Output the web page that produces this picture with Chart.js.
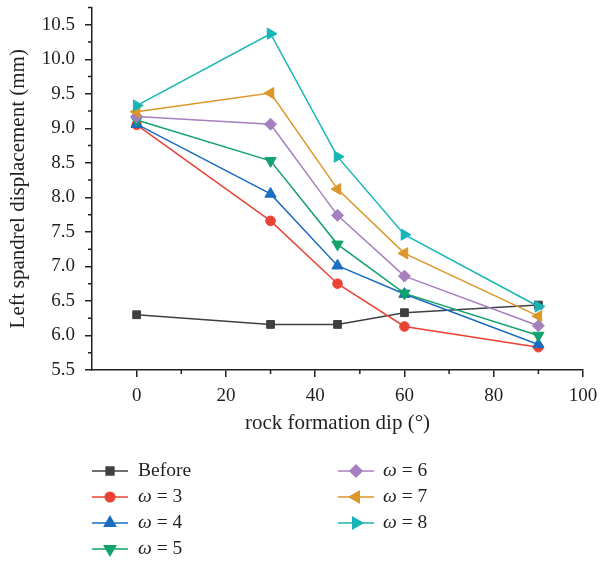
<!DOCTYPE html>
<html>
<head>
<meta charset="utf-8">
<script src="https://cdn.jsdelivr.net/npm/chart.js@4/dist/chart.umd.min.js"></script>
<style>
  body { margin: 0; background: #fff; }
  #wrap { width: 601px; height: 564px; }
</style>
</head>
<body>
<div id="wrap"><canvas id="chart" width="601" height="564"></canvas></div>
<script>
// values
const dips = [0, 30, 45, 60, 90];
const before = [6.30, 6.16, 6.16, 6.33, 6.44];
const w3 = [9.05, 7.66, 6.75, 6.13, 5.83];
const w4 = [9.06, 8.05, 7.01, 6.60, 5.87];
const w5 = [9.12, 8.53, 7.32, 6.61, 6.00];
const w6 = [9.17, 9.06, 7.74, 6.86, 6.14];
const w7 = [9.24, 9.51, 8.12, 7.19, 6.28];
const w8 = [9.33, 10.37, 8.59, 7.46, 6.42];

const xTicks = [0, 20, 40, 60, 80, 100];
const xMinor = [10, 30, 50, 70, 90];
const yTicks = [5.5, 6.0, 6.5, 7.0, 7.5, 8.0, 8.5, 9.0, 9.5, 10.0, 10.5];
const yMinor = [5.75, 6.25, 6.75, 7.25, 7.75, 8.25, 8.75, 9.25, 9.75, 10.25, 10.75];

const FONT = '"Liberation Serif", "Times New Roman", serif';
const INK = '#231f20';

function pts(arr) {
  return arr.map((v, i) => ({ x: dips[i], y: v }));
}

function series(label, values, color, style, rotation, radius, order) {
  return {
    label, data: pts(values),
    borderColor: color, backgroundColor: color,
    borderWidth: 1.5,
    pointStyle: style, rotation: rotation, pointRadius: radius,
    pointHoverRadius: radius, pointBorderWidth: 1,
    tension: 0, order: order
  };
}

const datasets = [
  series('Before', before, '#3d3f40', 'rect', 0, 5.5, 6),
  series('3', w3, '#ea4335', 'circle', 0, 4.8, 5),
  series('4', w4, '#1a6dc0', 'triangle', 0, 6.5, 4),
  series('5', w5, '#12a26b', 'triangle', 180, 6.5, 3),
  series('6', w6, '#a67fbf', 'rectRot', 0, 6, 2),
  series('7', w7, '#dc962b', 'triangle', 270, 6.5, 1),
  series('8', w8, '#17b6b6', 'triangle', 90, 6.5, 0)
];

// short minor tick marks on both axes
const minorTicks = {
  id: 'minorTicks',
  afterDraw(chart) {
    const { ctx, scales: { x, y } } = chart;
    ctx.save();
    ctx.strokeStyle = INK;
    ctx.lineWidth = 1.5;
    ctx.beginPath();
    xMinor.forEach(v => {
      const px = x.getPixelForValue(v);
      ctx.moveTo(px, y.bottom);
      ctx.lineTo(px, y.bottom + 4);
    });
    yMinor.forEach(v => {
      const py = y.getPixelForValue(v);
      ctx.moveTo(x.left, py);
      ctx.lineTo(x.left - 4, py);
    });
    ctx.stroke();
    ctx.restore();
  }
};

// two-column legend under the axis title
const legendCols = [
  { lineX: 92, textX: 138, items: [0, 1, 2, 3] },
  { lineX: 338, textX: 383, items: [4, 5, 6] }
];
const legendRows = [471, 497, 523, 549];

const twoColLegend = {
  id: 'twoColLegend',
  afterDraw(chart) {
    const ctx = chart.ctx;
    ctx.save();
    legendCols.forEach(col => {
      col.items.forEach((di, r) => {
        const ds = chart.data.datasets[di];
        const yy = legendRows[r];
        ctx.strokeStyle = ds.borderColor;
        ctx.fillStyle = ds.backgroundColor;
        ctx.lineWidth = 1.5;
        ctx.beginPath();
        ctx.moveTo(col.lineX, yy);
        ctx.lineTo(col.lineX + 36, yy);
        ctx.stroke();
        Chart.helpers.drawPoint(ctx, {
          pointStyle: ds.pointStyle, rotation: ds.rotation,
          radius: ds.pointRadius, borderWidth: 1
        }, col.lineX + 18, yy);
        ctx.fillStyle = INK;
        ctx.textBaseline = 'middle';
        ctx.textAlign = 'left';
        if (ds.label === 'Before') {
          ctx.font = '19.5px ' + FONT;
          ctx.fillText('Before', col.textX, yy);
        } else {
          ctx.font = 'italic 19.5px ' + FONT;
          ctx.fillText('\u03c9', col.textX, yy);
          const w = ctx.measureText('\u03c9').width;
          ctx.font = '19.5px ' + FONT;
          ctx.fillText(' = ' + ds.label, col.textX + w, yy);
        }
      });
    });
    ctx.restore();
  }
};

new Chart(document.getElementById('chart'), {
  type: 'line',
  data: { datasets },
  plugins: [minorTicks, twoColLegend],
  options: {
    responsive: false,
    animation: false,
    layout: { padding: { left: 0, top: 5, right: 18, bottom: 0 } },
    plugins: { legend: { display: false }, tooltip: { enabled: false } },
    scales: {
      x: {
        type: 'linear', min: -10, max: 100,
        afterBuildTicks: s => { s.ticks = xTicks.map(v => ({ value: v })); },
        afterFit: s => { s.height = 194; s.paddingLeft = 0; s.paddingRight = 0; },
        grid: { drawOnChartArea: false, drawTicks: true, tickLength: 7, color: INK, lineWidth: 1.5 },
        border: { display: true, color: INK, width: 1.5 },
        ticks: { color: INK, padding: 8, maxRotation: 0, font: { family: FONT, size: 19 } },
        title: {
          display: true, text: 'rock formation dip (\u00b0)', color: INK,
          font: { family: FONT, size: 21 }, padding: { top: 0, bottom: 128 }
        }
      },
      y: {
        type: 'linear', min: 5.5, max: 10.75,
        afterBuildTicks: s => { s.ticks = yTicks.map(v => ({ value: v })); },
        afterFit: s => { s.width = 92; s.paddingTop = 0; s.paddingBottom = 0; },
        grid: { drawOnChartArea: false, drawTicks: true, tickLength: 7, color: INK, lineWidth: 1.5 },
        border: { display: true, color: INK, width: 1.5 },
        ticks: {
          color: INK, padding: 10, font: { family: FONT, size: 19 },
          callback: v => Number(v).toFixed(1)
        },
        title: {
          display: true, text: 'Left spandrel displacement (mm)', color: INK,
          font: { family: FONT, size: 21 }, padding: { top: 6, bottom: 0 }
        }
      }
    }
  }
});
</script>
</body>
</html>
